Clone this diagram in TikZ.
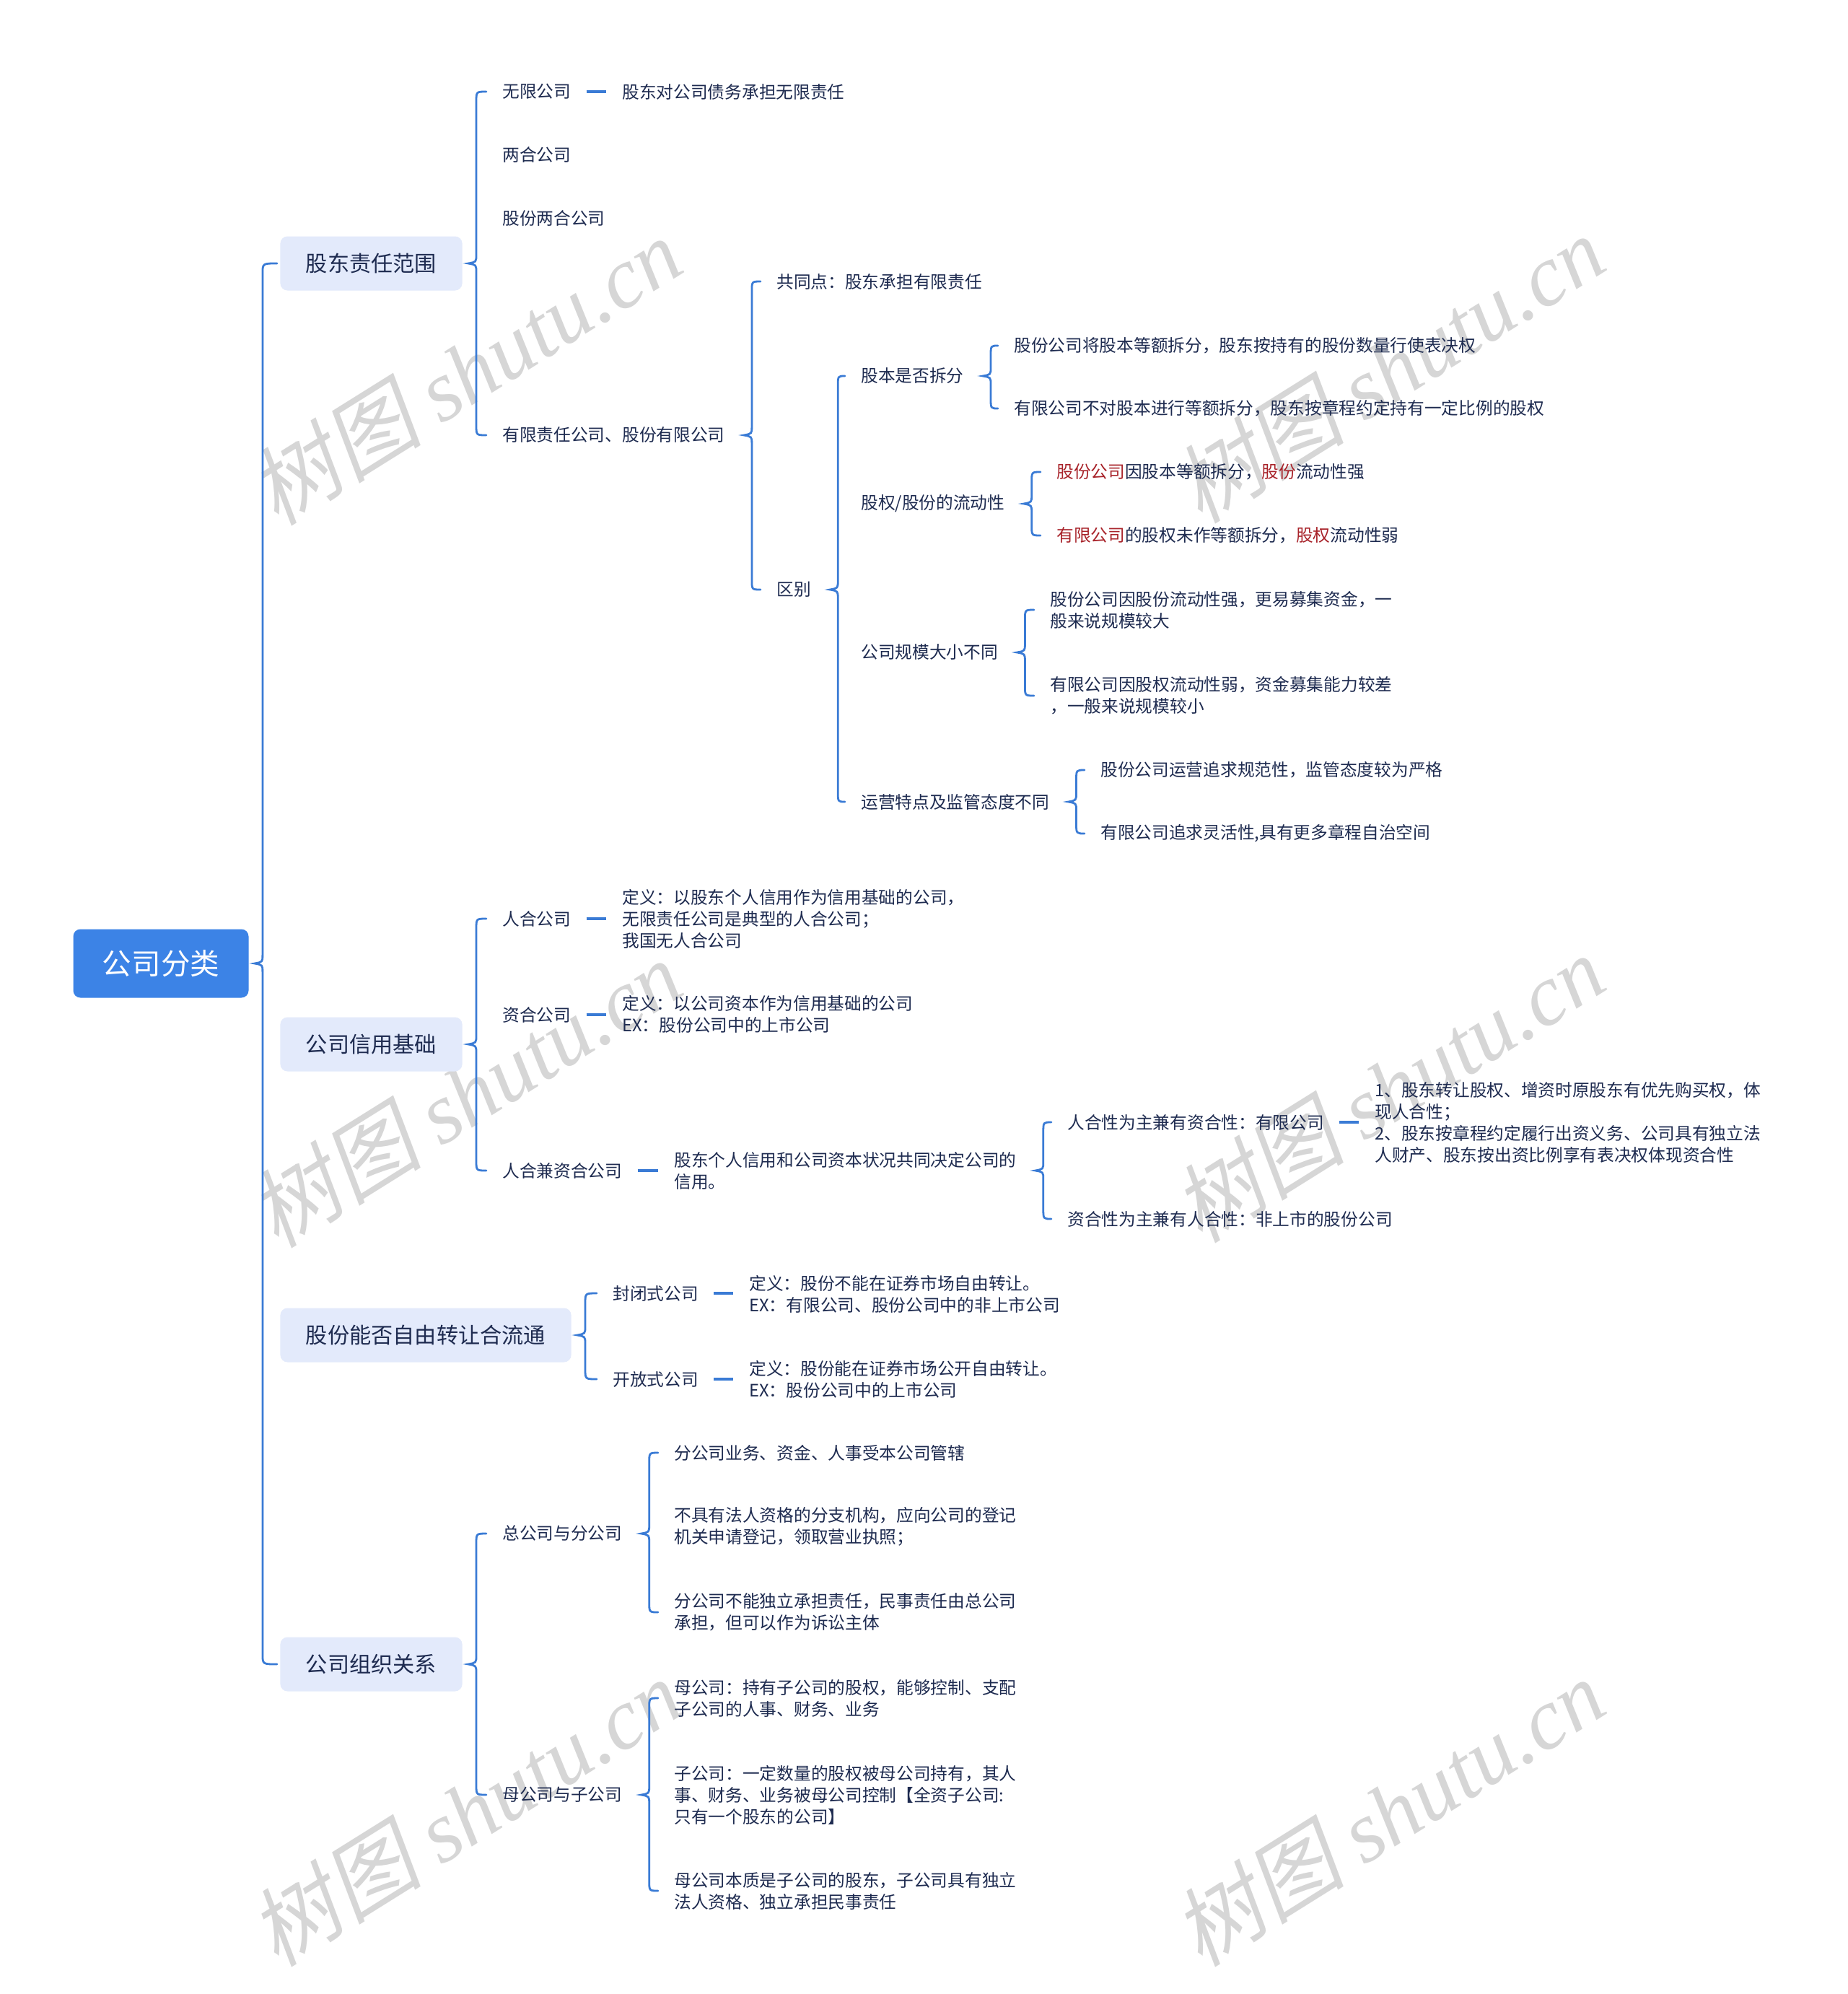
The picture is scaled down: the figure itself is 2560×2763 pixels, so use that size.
\documentclass[tikz,border=0pt]{standalone}
\usepackage{fontspec}
\setmainfont{Noto Sans CJK SC}
\newfontfamily\wmcjk{Noto Sans CJK SC}[FakeSlant=0.2]
\newfontfamily\wmlatin{Liberation Serif}
\usetikzlibrary{calc}
\definecolor{lineblue}{HTML}{3A7BD5}
\definecolor{rootblue}{HTML}{3C83E6}
\definecolor{lonefill}{HTML}{E3EAFB}
\definecolor{txtc}{HTML}{1E2B50}
\definecolor{redc}{HTML}{A8232A}
\definecolor{wmc}{HTML}{D6D6D6}
\newcommand\rd[1]{\textcolor{redc}{#1}}
\tikzset{
 brline/.style={draw=lineblue, line width=1.4pt, line cap=round},
 dashline/.style={draw=lineblue, line width=2pt},
 rootbox/.style={fill=rootblue, text=white, rounded corners=5pt, minimum width=121.5pt, minimum height=47.5pt, font=\fontsize{20.3pt}{24pt}\selectfont, inner sep=0pt},
 lonebox/.style={fill=lonefill, text=txtc, rounded corners=5pt, minimum height=37.5pt, inner xsep=17.75pt, inner ysep=0pt, font=\fontsize{15.1pt}{18pt}\selectfont, anchor=west},
 tx/.style={text=txtc, inner xsep=9pt, inner ysep=2pt, font=\fontsize{11.85pt}{15pt}\selectfont, align=left, anchor=west},
 wmark/.style={text=wmc, rotate=32, font=\fontsize{60pt}{64pt}\selectfont},
}
\newcommand\bracegroup[3]{%
 \draw[brline] let \p1=(#1.east), \p2=(#2.west), \p3=(#3.west) in
 (\x2-2pt,\y2) .. controls (\x1+9.5pt,\y2) .. (\x1+9.5pt,\y2-7pt)
 -- (\x1+9.5pt,\y1+6pt) .. controls (\x1+9.5pt,\y1+1pt) .. (\x1+4pt,\y1)
 .. controls (\x1+9.5pt,\y1-1pt) .. (\x1+9.5pt,\y1-6pt)
 -- (\x1+9.5pt,\y3+7pt) .. controls (\x1+9.5pt,\y3) .. (\x3-2pt,\y3);}
\newcommand\dashto[2]{%
 \draw[dashline] let \p1=(#1.east), \p2=(#2.west) in (\x1+1.5pt,\y1) -- (\x2-2pt,\y1);}
\begin{document}
\begin{tikzpicture}[x=0.5pt,y=-0.5pt]
\fill[white] (0,0) rectangle (2560,2763);
\useasboundingbox (0,0) rectangle (2560,2763);
% watermarks
\foreach \wx/\wy [count=\i] in {645/514,1924/511,645/1515,1924/1508,645/2511,1924/2511}
  \node[wmark] (wm\i) at (\wx,\wy) {{\wmcjk 树图} {\wmlatin\itshape shutu.cn}};
% root and level 1
\node[rootbox] (root) at (223,1335) {公司分类};
\node[lonebox] (A) at (388,365) {股东责任范围};
\node[lonebox] (B) at (388,1447) {公司信用基础};
\node[lonebox] (C) at (388,1850) {股份能否自由转让合流通};
\node[lonebox] (D) at (388,2306) {公司组织关系};
% A
\node[tx] (a1) at (678,127) {无限公司};
\node[tx] (a1x) at (844,127) {股东对公司债务承担无限责任};
\node[tx] (a2) at (678,214) {两合公司};
\node[tx] (a3) at (678,302) {股份两合公司};
\node[tx] (a4) at (678,603) {有限责任公司、股份有限公司};
\node[tx] (b1) at (1058,390) {共同点：股东承担有限责任};
\node[tx] (b2) at (1058,817) {区别};
\node[tx] (c1) at (1175,521) {股本是否拆分};
\node[tx] (c2) at (1175,698) {股权/股份的流动性};
\node[tx] (c3) at (1175,904) {公司规模大小不同};
\node[tx] (c4) at (1175,1111) {运营特点及监管态度不同};
\node[tx] (c1a) at (1387,479) {股份公司将股本等额拆分，股东按持有的股份数量行使表决权};
\node[tx] (c1b) at (1387,566) {有限公司不对股本进行等额拆分，股东按章程约定持有一定比例的股权};
\node[tx] (c2a) at (1446,654) {\rd{股份公司}因股本等额拆分，\rd{股份}流动性强};
\node[tx] (c2b) at (1446,742) {\rd{有限公司}的股权未作等额拆分，\rd{股权}流动性弱};
\node[tx] (c3a) at (1437,845) {股份公司因股份流动性强，更易募集资金，一\\般来说规模较大};
\node[tx] (c3b) at (1437,964) {有限公司因股权流动性弱，资金募集能力较差\\，一般来说规模较小};
\node[tx] (c4a) at (1507,1067) {股份公司运营追求规范性，监管态度较为严格};
\node[tx] (c4b) at (1507,1155) {有限公司追求灵活性,具有更多章程自治空间};
% B
\node[tx] (p1) at (678,1273) {人合公司};
\node[tx] (p1x) at (844,1273) {定义：以股东个人信用作为信用基础的公司，\\无限责任公司是典型的人合公司；\\我国无人合公司};
\node[tx] (p2) at (678,1406) {资合公司};
\node[tx] (p2x) at (844,1405) {定义：以公司资本作为信用基础的公司\\EX：股份公司中的上市公司};
\node[tx] (p3) at (678,1622) {人合兼资合公司};
\node[tx] (p3x) at (916,1622) {股东个人信用和公司资本状况共同决定公司的\\信用。};
\node[tx] (g1) at (1461,1555) {人合性为主兼有资合性：有限公司};
\node[tx] (g1x) at (1887,1555) {1、股东转让股权、增资时原股东有优先购买权，体\\现人合性；\\2、股东按章程约定履行出资义务、公司具有独立法\\人财产、股东按出资比例享有表决权体现资合性};
\node[tx] (g2) at (1461,1689) {资合性为主兼有人合性：非上市的股份公司};
% C
\node[tx] (k1) at (831,1792) {封闭式公司};
\node[tx] (k1x) at (1020,1793) {定义：股份不能在证券市场自由转让。\\EX：有限公司、股份公司中的非上市公司};
\node[tx] (k2) at (831,1911) {开放式公司};
\node[tx] (k2x) at (1020,1911) {定义：股份能在证券市场公开自由转让。\\EX：股份公司中的上市公司};
% D
\node[tx] (d1) at (678,2125) {总公司与分公司};
\node[tx] (e1) at (916,2013) {分公司业务、资金、人事受本公司管辖};
\node[tx] (e2) at (916,2115) {不具有法人资格的分支机构，应向公司的登记\\机关申请登记，领取营业执照；};
\node[tx] (e3) at (916,2234) {分公司不能独立承担责任，民事责任由总公司\\承担，但可以作为诉讼主体};
\node[tx] (d2) at (678,2487) {母公司与子公司};
\node[tx] (f1) at (916,2353) {母公司：持有子公司的股权，能够控制、支配\\子公司的人事、财务、业务};
\node[tx] (f2) at (916,2487) {子公司：一定数量的股权被母公司持有，其人\\事、财务、业务被母公司控制【全资子公司:\\只有一个股东的公司】};
\node[tx] (f3) at (916,2620) {母公司本质是子公司的股东，子公司具有独立\\法人资格、独立承担民事责任};
% braces
\bracegroup{root}{A}{D}
\bracegroup{A}{a1}{a4}
\bracegroup{a4}{b1}{b2}
\bracegroup{b2}{c1}{c4}
\bracegroup{c1}{c1a}{c1b}
\bracegroup{c2}{c2a}{c2b}
\bracegroup{c3}{c3a}{c3b}
\bracegroup{c4}{c4a}{c4b}
\bracegroup{B}{p1}{p3}
\bracegroup{p3x}{g1}{g2}
\bracegroup{C}{k1}{k2}
\bracegroup{D}{d1}{d2}
\bracegroup{d1}{e1}{e3}
\bracegroup{d2}{f1}{f3}
% dashes
\dashto{a1}{a1x}
\dashto{p1}{p1x}
\dashto{p2}{p2x}
\dashto{p3}{p3x}
\dashto{g1}{g1x}
\dashto{k1}{k1x}
\dashto{k2}{k2x}
\end{tikzpicture}
\end{document}
